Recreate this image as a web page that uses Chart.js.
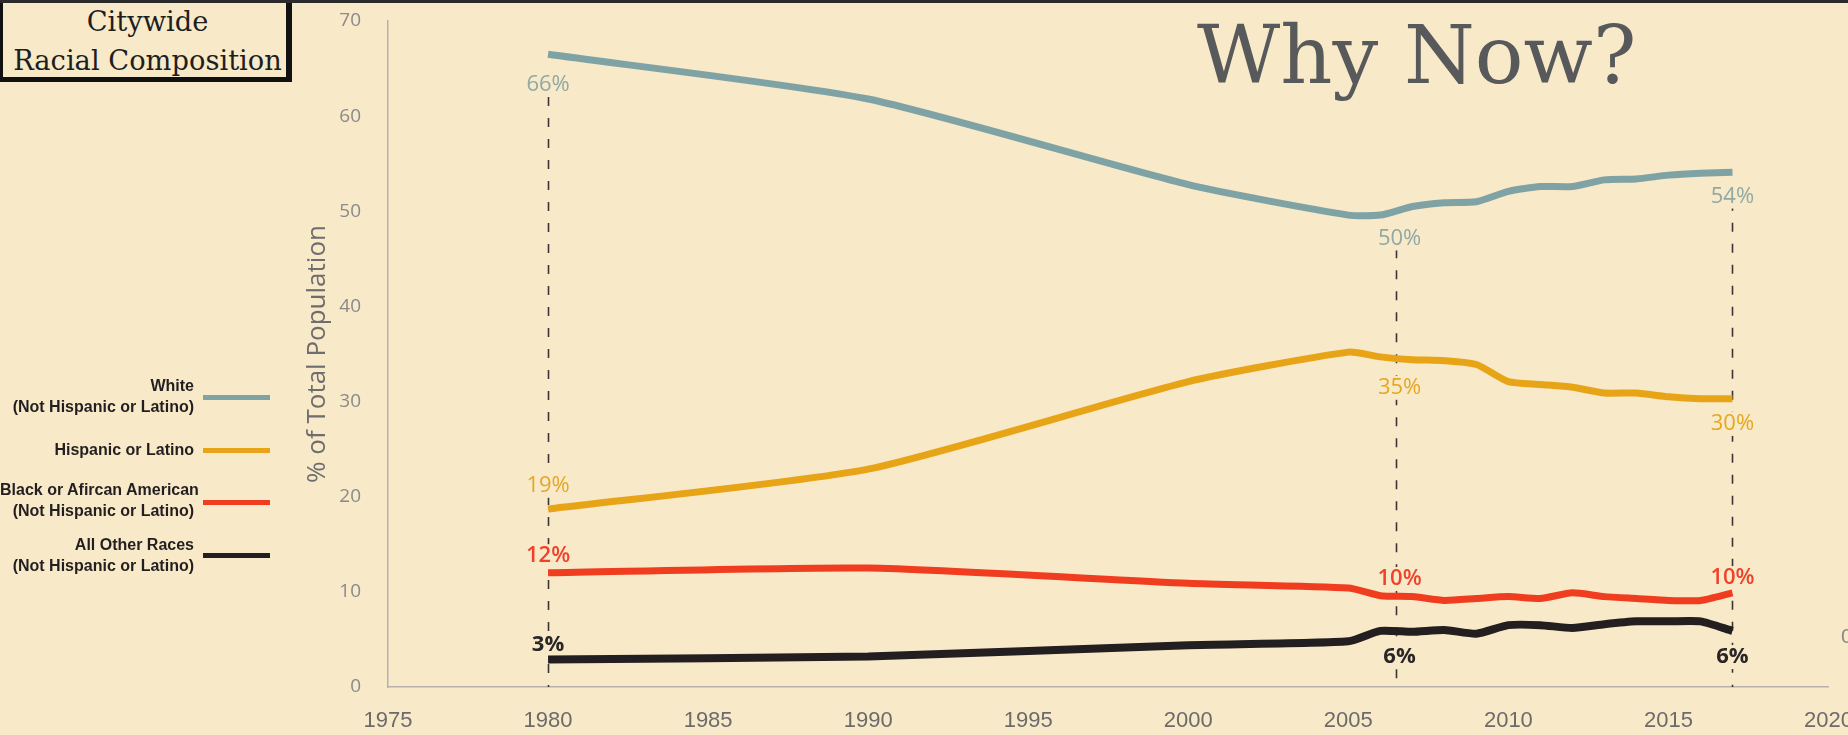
<!DOCTYPE html>
<html>
<head>
<meta charset="utf-8">
<script src="https://cdn.jsdelivr.net/npm/chart.js@4.4.1/dist/chart.umd.min.js"></script>
<style>
  html, body { margin:0; padding:0; width:1848px; height:735px; overflow:hidden; background:#f8e9c9; }
  #wrap { position:absolute; left:0; top:0; width:1870px; height:735px; }
  #topline { position:absolute; left:0; top:0; width:1848px; height:3px; background:#2b2b2b; z-index:5; }
  #titlebox { position:absolute; left:0; top:0; width:277px; height:74px; padding-left:6px; box-sizing:content-box;
    border-left:3px solid #111; border-right:6px solid #111; border-bottom:5px solid #111; border-top:3px solid #111;
    font-family:'DejaVu Serif', serif; font-size:27.3px; color:#1e1e1e; text-align:center; z-index:4; background:#f8e9c9; white-space:nowrap; }
  #titlebox div { line-height:39px; }
  #titlebox .l1 { margin-top:-1px; }
  #whynow { position:absolute; left:1197px; top:15px; font-family:'DejaVu Serif', serif; font-size:81px; line-height:81px;
    color:#58595b; z-index:4; white-space:nowrap; }
  .leg { position:absolute; left:0; width:194px; text-align:right; font-family:'Liberation Sans', Arial, sans-serif;
    font-weight:bold; font-size:16px; line-height:21px; color:#231f20; z-index:4; white-space:nowrap; }
  .sw { position:absolute; left:203px; width:67px; height:5px; z-index:4; }
  #edge { position:absolute; left:1841px; top:624px; font-family:'Liberation Sans Narrow','Liberation Sans',sans-serif; font-size:21px; color:#8a8a8a; z-index:4; }
</style>
</head>
<body>
<div id="topline"></div>
<div id="titlebox"><div class="l1">Citywide</div><div>Racial Composition</div></div>
<div id="whynow">Why Now?</div>

<div class="leg" style="top:375px">White<br>(Not Hispanic or Latino)</div>
<div class="sw" style="top:395px;background:#7fa3a5"></div>
<div class="leg" style="top:439px">Hispanic or Latino</div>
<div class="sw" style="top:448px;background:#e8a417"></div>
<div class="leg" style="top:479px">Black or Afircan American<br>(Not Hispanic or Latino)</div>
<div class="sw" style="top:500px;background:#f03d1f"></div>
<div class="leg" style="top:534px">All Other Races<br>(Not Hispanic or Latino)</div>
<div class="sw" style="top:553px;background:#231f20"></div>
<div id="edge">0</div>

<div id="wrap"><canvas id="c" width="1870" height="735"></canvas></div>

<script>
// ---- data ----
const years    = [1980, 1990, 2000, 2005, 2006, 2007, 2008, 2009, 2010, 2011, 2012, 2013, 2014, 2015, 2016, 2017];
const white    = [66.5, 61.8, 52.8, 49.6, 49.6, 50.5, 50.9, 51.0, 52.1, 52.6, 52.6, 53.3, 53.4, 53.8, 54.0, 54.1];
const hispanic = [18.7, 22.9, 32.1, 35.2, 34.7, 34.4, 34.3, 33.9, 32.1, 31.8, 31.5, 30.9, 30.9, 30.5, 30.3, 30.3];
const black    = [12.0, 12.5, 10.9, 10.4, 9.6, 9.5, 9.1, 9.3, 9.5, 9.3, 9.9, 9.5, 9.3, 9.1, 9.1, 9.9];
const other    = [2.9, 3.2, 4.4, 4.8, 5.9, 5.8, 6.0, 5.6, 6.5, 6.5, 6.2, 6.6, 6.9, 6.9, 6.9, 5.9];

const xTickLabels = [1975, 1980, 1985, 1990, 1995, 2000, 2005, 2010, 2015, 2020];
const yTickLabels = [0, 10, 20, 30, 40, 50, 60, 70];

// reference (dashed) lines: year and the value where the dash starts
const markerYears = [1980, 2006.5, 2017];
const markerTops  = [62, 46, 51];

// callout labels
const calloutYears  = [1980, 1980, 1980, 1980, 2006.6, 2006.6, 2006.6, 2006.6, 2017, 2017, 2017, 2017];
const calloutValues = [63.35, 21.15, 13.75, 4.45, 47.15, 31.45, 11.35, 3.15, 51.55, 27.65, 11.45, 3.15];
const calloutTexts  = ['66%', '19%', '12%', '3%', '50%', '35%', '10%', '6%', '54%', '30%', '10%', '6%'];
const calloutSeries = [0, 1, 2, 3, 0, 1, 2, 3, 0, 1, 2, 3];

const seriesNames  = ['White (Not Hispanic or Latino)', 'Hispanic or Latino', 'Black or Afircan American (Not Hispanic or Latino)', 'All Other Races (Not Hispanic or Latino)'];
const seriesColors = ['#7fa3a5', '#e8a417', '#f03d1f', '#231f20'];
const labelColors  = ['#8fa9a6', '#e6a722', '#f0412a', '#2a2626'];
const labelWeights = ['normal', 'normal', '600', 'bold'];

const BG = '#f8e9c9';
const LABEL_FONT = " 22px 'Open Sans', sans-serif";

const pts = arr => years.map((yr, i) => ({ x: yr, y: arr[i] }));

const markerPlugin = {
  id: 'markers',
  beforeDatasetsDraw(chart) {
    const { ctx, scales: { x, y } } = chart;
    ctx.save();
    ctx.strokeStyle = '#3a3636';
    ctx.lineWidth = 1.6;
    ctx.setLineDash([9, 12]);
    markerYears.forEach((yr, i) => {
      const px = Math.round(x.getPixelForValue(yr)) + 0.5;
      ctx.beginPath();
      ctx.moveTo(px, y.getPixelForValue(markerTops[i]));
      ctx.lineTo(px, y.getPixelForValue(0));
      ctx.stroke();
    });
    ctx.setLineDash([]);
    ctx.fillStyle = BG;
    calloutTexts.forEach((t, i) => {
      ctx.font = labelWeights[calloutSeries[i]] + LABEL_FONT;
      const w = ctx.measureText(t).width;
      const px = x.getPixelForValue(calloutYears[i]);
      const py = y.getPixelForValue(calloutValues[i]);
      ctx.fillRect(px - w / 2 - 3, py - 12, w + 6, 24);
    });
    ctx.restore();
  },
  afterDatasetsDraw(chart) {
    const { ctx, scales: { x, y } } = chart;
    ctx.save();
    ctx.textAlign = 'center';
    ctx.textBaseline = 'middle';
    calloutTexts.forEach((t, i) => {
      const s = calloutSeries[i];
      ctx.font = labelWeights[s] + LABEL_FONT;
      ctx.fillStyle = labelColors[s];
      ctx.fillText(t, x.getPixelForValue(calloutYears[i]), y.getPixelForValue(calloutValues[i]));
    });
    ctx.restore();
  }
};

const mk = (idx, arr, w) => ({
  label: seriesNames[idx],
  data: pts(arr),
  borderColor: seriesColors[idx],
  backgroundColor: seriesColors[idx],
  borderWidth: w,
  pointRadius: 0,
  tension: 0.2,
  borderCapStyle: 'butt',
  borderJoinStyle: 'round',
  fill: false
});

const noOverflow = s => { s.paddingTop = 0; s.paddingBottom = 0; s.paddingLeft = 0; s.paddingRight = 0; };

new Chart(document.getElementById('c'), {
  type: 'line',
  data: {
    datasets: [
      mk(0, white, 7),
      mk(1, hispanic, 7),
      mk(2, black, 7),
      mk(3, other, 8)
    ]
  },
  options: {
    responsive: false,
    animation: false,
    devicePixelRatio: 1,
    layout: { autoPadding: false, padding: { left: 298, right: 41.5, top: 21, bottom: 0 } },
    plugins: { legend: { display: false }, tooltip: { enabled: false } },
    scales: {
      x: {
        type: 'linear', min: 1975, max: 2020,
        afterBuildTicks: s => { s.ticks = xTickLabels.map(v => ({ value: v })); },
        afterFit: s => { s.height = 48; noOverflow(s); },
        ticks: {
          autoSkip: false, maxRotation: 0, padding: 21,
          color: '#6b6b6b',
          font: { family: "'Liberation Sans Narrow', 'Liberation Sans', sans-serif", size: 22 },
          callback: v => String(v)
        },
        grid: { display: false, drawTicks: false },
        border: { display: true, color: '#b7b0ab', width: 1.5 }
      },
      y: {
        type: 'linear', min: 0, max: 70,
        afterBuildTicks: s => { s.ticks = yTickLabels.map(v => ({ value: v })); },
        afterFit: s => { s.width = 90; noOverflow(s); },
        ticks: {
          padding: 27, color: '#8a8a8a',
          font: { family: "'Open Sans', sans-serif", size: 19 },
          callback: v => String(v)
        },
        grid: { display: false, drawTicks: false },
        border: { display: true, color: '#b7b0ab', width: 1.5 },
        title: {
          display: true, text: '% of Total Population', color: '#6e6e6e',
          font: { family: "'Open Sans', sans-serif", size: 26 },
          padding: { top: 4, bottom: 2 }
        }
      }
    }
  },
  plugins: [markerPlugin]
});
</script>
</body>
</html>
